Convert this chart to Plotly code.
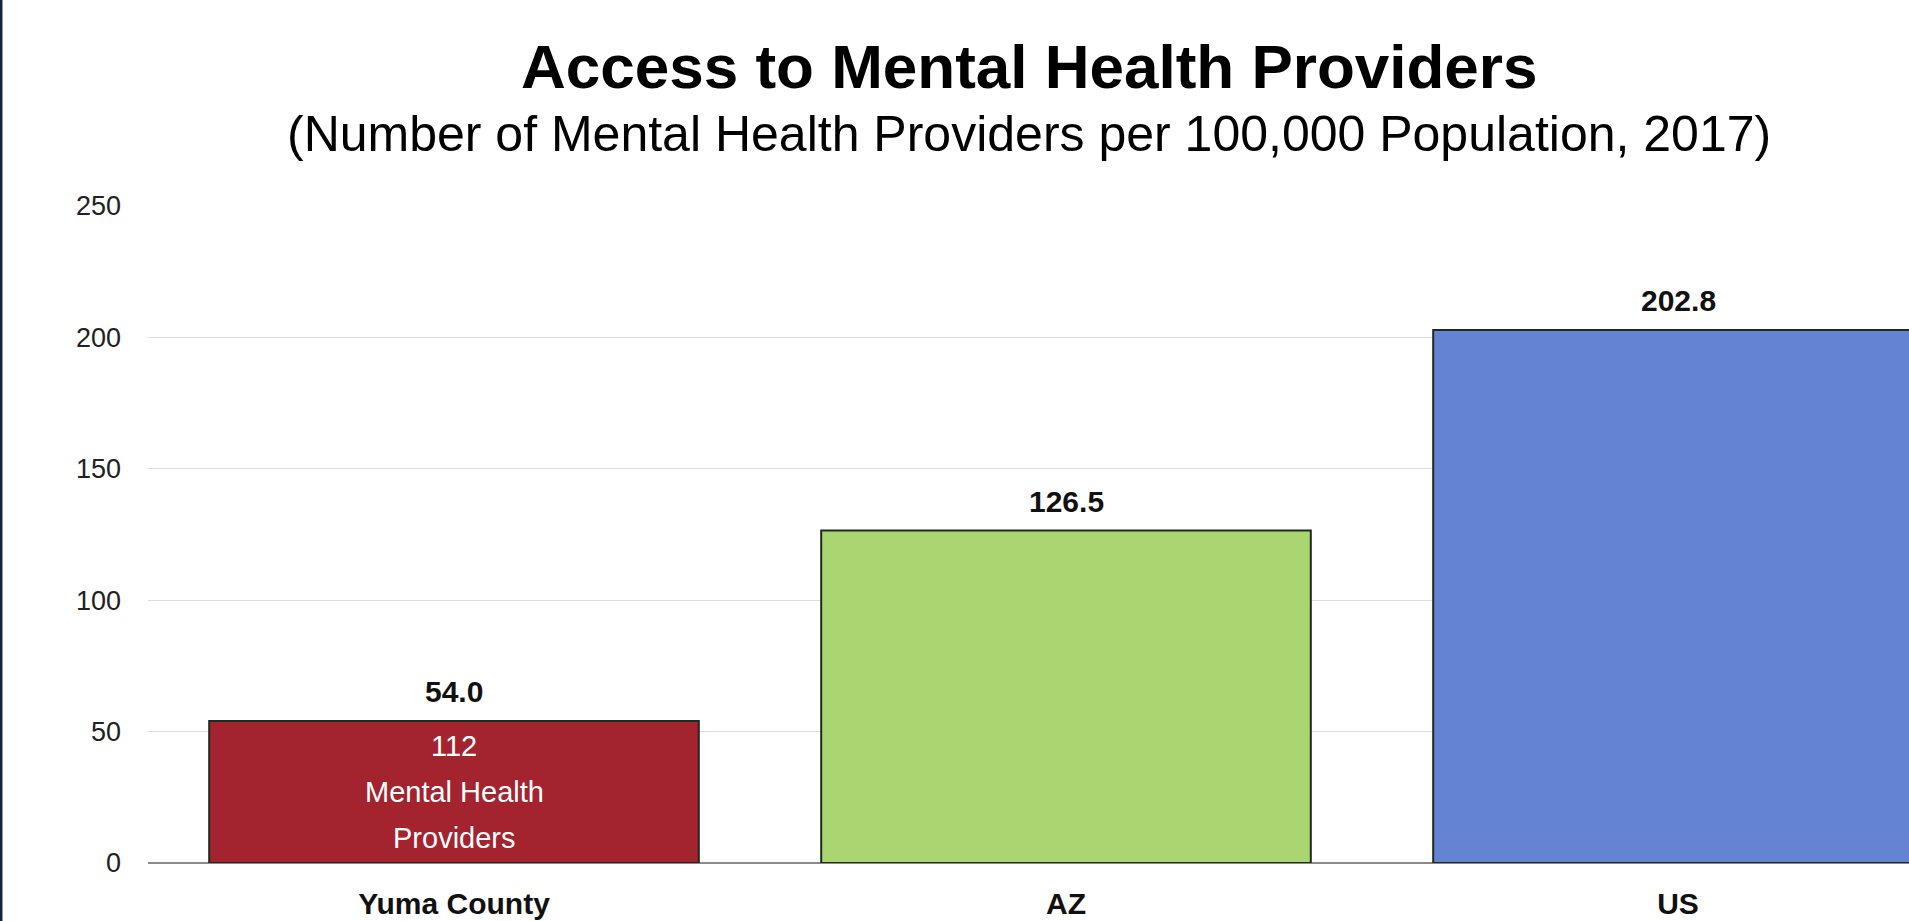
import plotly.graph_objects as go

# Mental health providers per 100,000 population, 2017
categories = ["Yuma County", "AZ", "US"]
rates = [54.0, 126.5, 202.8]
bar_colors = ["#a3232f", "#a9d670", "#6483d2"]
yuma_note_lines = ["112", "Mental Health", "Providers"]
y_ticks = [0, 50, 100, 150, 200, 250]

title_text = "Access to Mental Health Providers"
subtitle_text = "(Number of Mental Health Providers per 100,000 Population, 2017)"

FONT = "Liberation Sans, Arial, Helvetica, sans-serif"

W, H = 1909, 921
M_L, M_R, M_T, M_B = 148, 0, 206, 58
plot_w = W - M_L - M_R
plot_h = H - M_T - M_B

fig = go.Figure()
fig.add_trace(go.Bar(
    x=categories,
    y=rates,
    marker=dict(color=bar_colors, line=dict(color="#1e2a1e", width=2)),
    hoverinfo="skip",
))

annotations = []
# value labels above each bar
for cat, val in zip(categories, rates):
    annotations.append(dict(
        x=cat, y=val, xref="x", yref="y", text=f"<b>{val:.1f}</b>",
        showarrow=False, yanchor="bottom", yshift=11,
        font=dict(family=FONT, size=30, color="#111111"),
    ))
# note inside the county bar, one line per annotation
line_step = 46
n_lines = len(yuma_note_lines)
for i, line in enumerate(yuma_note_lines):
    annotations.append(dict(
        x=categories[0], y=rates[0] / 2, xref="x", yref="y", text=line,
        showarrow=False, yanchor="middle",
        yshift=((n_lines - 1) / 2 - i) * line_step,
        font=dict(family=FONT, size=29, color="#ffffff"),
    ))
# title and subtitle
annotations.append(dict(
    x=0.5, y=(H - M_B - 66) / plot_h, xref="paper", yref="paper",
    text=f"<b>{title_text}</b>", showarrow=False, yanchor="middle",
    font=dict(family=FONT, size=62, color="#000000"),
))
annotations.append(dict(
    x=0.5, y=(H - M_B - 134) / plot_h, xref="paper", yref="paper",
    text=subtitle_text, showarrow=False, yanchor="middle",
    font=dict(family=FONT, size=50, color="#000000"),
))

fig.update_layout(
    width=W, height=H,
    margin=dict(l=M_L, r=M_R, t=M_T, b=M_B, pad=0),
    paper_bgcolor="#ffffff",
    plot_bgcolor="#ffffff",
    showlegend=False,
    bargap=0.2,
    annotations=annotations,
    shapes=[dict(
        type="line", xref="paper", yref="paper",
        x0=-(M_L - 1.2) / plot_w, x1=-(M_L - 1.2) / plot_w,
        y0=-M_B / plot_h, y1=1 + M_T / plot_h,
        line=dict(color="#16253d", width=2.5),
    )],
)

fig.update_xaxes(
    range=[-0.5, -0.5 + plot_w / 612.0],
    automargin=False,
    showgrid=False, showline=False, zeroline=False,
    ticks="", ticklabelstandoff=20,
    tickfont=dict(family=FONT, size=30, color="#111111", weight="bold"),
)
fig.update_yaxes(
    range=[0, 250], tickvals=y_ticks,
    automargin=False,
    showgrid=True, gridcolor="#dcdcdc", gridwidth=1,
    zeroline=True, zerolinecolor="#8a8a8a", zerolinewidth=1.5,
    showline=False, ticks="", ticklabelstandoff=26,
    tickfont=dict(family=FONT, size=27, color="#222222"),
)

fig.write_html("out.html")
